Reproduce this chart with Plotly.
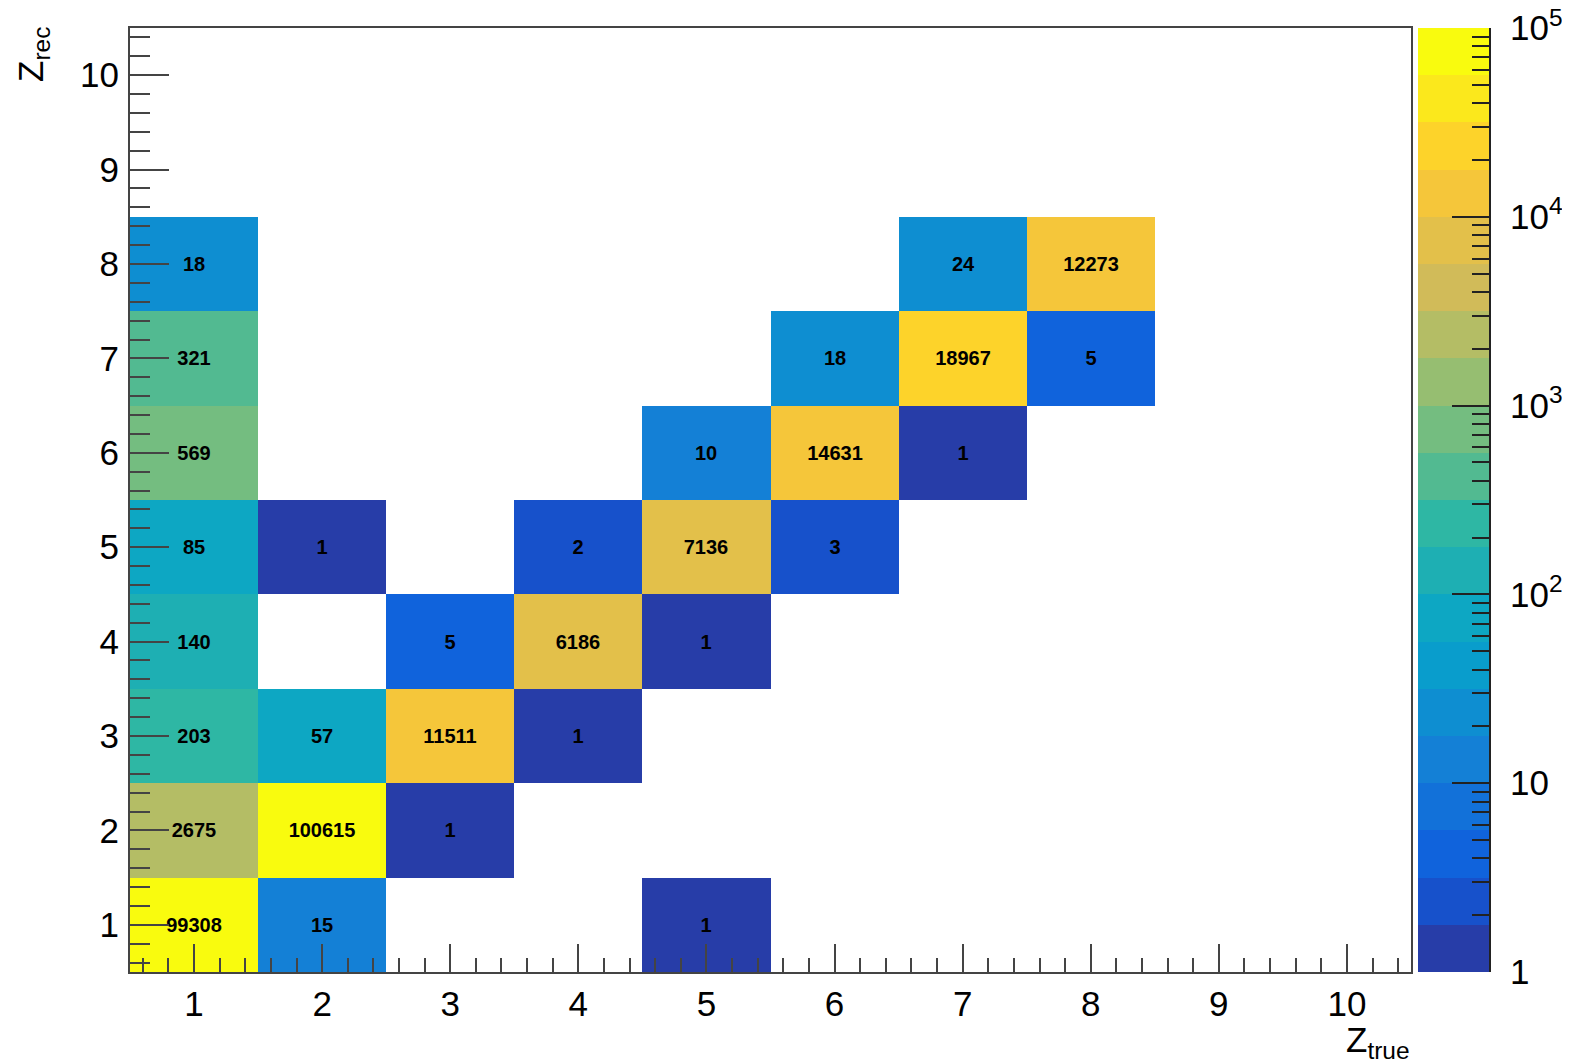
import math
import plotly.graph_objects as go

# ---------------- data ----------------
z_true = [1, 2, 5,
          1, 2, 3,
          1, 2, 3, 4,
          1, 3, 4, 5,
          1, 2, 4, 5, 6,
          1, 5, 6, 7,
          1, 6, 7, 8,
          1, 7, 8]
z_rec = [1, 1, 1,
         2, 2, 2,
         3, 3, 3, 3,
         4, 4, 4, 4,
         5, 5, 5, 5, 5,
         6, 6, 6, 6,
         7, 7, 7, 7,
         8, 8, 8]
counts = [99308, 15, 1,
          2675, 100615, 1,
          203, 57, 11511, 1,
          140, 5, 6186, 1,
          85, 1, 2, 7136, 3,
          569, 10, 14631, 1,
          321, 18, 18967, 5,
          18, 24, 12273]
axis_ticks = list(range(1, 11))
cbar_decades = [0, 1, 2, 3, 4, 5]
cbar_labels = ["1", "10", "10<sup>2</sup>", "10<sup>3</sup>", "10<sup>4</sup>", "10<sup>5</sup>"]

N_LEVELS = 20
ZMIN, ZMAX = 0.0, 5.0

# ---------------- palette (ROOT kBird, 20 contours) ----------------
stops = [0.0, 0.125, 0.25, 0.375, 0.5, 0.625, 0.75, 0.875, 1.0]
red = [0.2082, 0.0592, 0.0780, 0.0232, 0.1802, 0.5301, 0.8186, 0.9956, 0.9764]
green = [0.1664, 0.3599, 0.5041, 0.6419, 0.7178, 0.7492, 0.7328, 0.7862, 0.9832]
blue = [0.5293, 0.8684, 0.8385, 0.7914, 0.6425, 0.4662, 0.3499, 0.1968, 0.0539]


def bird(f):
    f = min(max(f, 0.0), 1.0)
    for i in range(len(stops) - 1):
        if stops[i] <= f <= stops[i + 1]:
            t = (f - stops[i]) / (stops[i + 1] - stops[i])
            r = red[i] + t * (red[i + 1] - red[i])
            g = green[i] + t * (green[i + 1] - green[i])
            b = blue[i] + t * (blue[i + 1] - blue[i])
            return "rgb(%d,%d,%d)" % (round(r * 255), round(g * 255), round(b * 255))
    return "rgb(249,251,14)"


level_colors = []
for k in range(N_LEVELS):
    idx = int((k + 0.99) * 255 / N_LEVELS)
    level_colors.append(bird(idx / 254.0))

colorscale = []
for k, c in enumerate(level_colors):
    colorscale.append([k / N_LEVELS, c])
    colorscale.append([(k + 1) / N_LEVELS, c])

# ---------------- grid ----------------
zgrid = [[None] * 10 for _ in range(10)]
tgrid = [[""] * 10 for _ in range(10)]
for xt, yr, c in zip(z_true, z_rec, counts):
    zgrid[yr - 1][xt - 1] = min(math.log10(c) + 1e-6, ZMAX - 1e-6)
    tgrid[yr - 1][xt - 1] = str(c)

# ---------------- geometry (page pixels; body has an 8px margin) ----------------
OFF = 8
W, H = 1570 - OFF, 1061 - OFF
PLOT_L, PLOT_R, PLOT_T, PLOT_B = 130, 1489, 28, 972
L, R, T, B = PLOT_L - OFF, W - (PLOT_R - OFF), PLOT_T - OFF, H - (PLOT_B - OFF)
PW = W - L - R
PH = H - T - B


def px(xpage):
    return (xpage - PLOT_L) / PW


def py(ypage):
    return (PLOT_B - ypage) / PH


FONT = "Liberation Sans, Arial, Helvetica, sans-serif"

fig = go.Figure()
fig.add_trace(go.Heatmap(
    x=axis_ticks, y=axis_ticks, z=zgrid, text=tgrid,
    texttemplate="%{text}",
    textfont=dict(family=FONT, size=20, color="black", weight="bold"),
    colorscale=colorscale, zmin=ZMIN, zmax=ZMAX, showscale=False,
    hoverongaps=False, xgap=0, ygap=0,
    xaxis="x", yaxis="y",
))

band_centers = [(k + 0.5) * (ZMAX - ZMIN) / N_LEVELS for k in range(N_LEVELS)]
fig.add_trace(go.Heatmap(
    x=[0], y=band_centers, z=[[v] for v in band_centers],
    colorscale=colorscale, zmin=ZMIN, zmax=ZMAX, showscale=False,
    xaxis="x2", yaxis="y2", hoverinfo="skip",
))

minor_cb = []
for d in range(5):
    for m in range(2, 10):
        minor_cb.append(d + math.log10(m))

axis_line = "#444444"
fig.update_layout(
    width=W, height=H,
    margin=dict(l=L, r=R, t=T, b=B, autoexpand=False),
    paper_bgcolor="white", plot_bgcolor="white",
    font=dict(family=FONT, size=35, color="black"),
    xaxis=dict(
        domain=[0, px(1411)], range=[0.5, 10.5], tickmode="array", tickvals=axis_ticks,
        ticks="inside", ticklen=28, tickwidth=2, tickcolor=axis_line,
        minor=dict(dtick=0.2, ticks="inside", ticklen=14, tickwidth=2, tickcolor=axis_line),
        showline=True, linecolor=axis_line, linewidth=2, mirror=True,
        showgrid=False, zeroline=False, ticklabelstandoff=0, automargin=False,
        ticklabeloverflow="allow",
        tickfont=dict(size=35, family=FONT),
    ),
    yaxis=dict(
        domain=[0, 1], range=[0.5, 10.5], tickmode="array", tickvals=axis_ticks,
        ticks="inside", ticklen=39, tickwidth=2, tickcolor=axis_line,
        minor=dict(dtick=0.2, ticks="inside", ticklen=20, tickwidth=2, tickcolor=axis_line),
        showline=True, linecolor=axis_line, linewidth=2, mirror=True,
        showgrid=False, zeroline=False, ticklabelstandoff=2, automargin=False,
        ticklabeloverflow="allow",
        tickfont=dict(size=35, family=FONT),
    ),
    xaxis2=dict(
        domain=[px(1418), 1.0], range=[-0.5, 0.5], anchor="y2",
        showticklabels=False, ticks="", showgrid=False, zeroline=False, showline=False,
        automargin=False,
    ),
    yaxis2=dict(
        domain=[0, 1], range=[ZMIN, ZMAX], anchor="x2", side="right",
        tickmode="array", tickvals=cbar_decades, ticktext=cbar_labels,
        ticks="inside", ticklen=37, tickwidth=2, tickcolor="#222",
        minor=dict(tickmode="array", tickvals=minor_cb, ticks="inside", ticklen=17,
                   tickwidth=2, tickcolor="#222"),
        showline=True, linecolor="#222", linewidth=2, mirror=False,
        showgrid=False, zeroline=False, ticklabelstandoff=12, automargin=False,
        ticklabeloverflow="allow",
        tickfont=dict(size=35, family=FONT),
    ),
    annotations=[
        dict(text="Z<sub>rec</sub>", xref="paper", yref="paper", x=px(33), y=py(55),
             textangle=-90, showarrow=False, font=dict(size=35, family=FONT),
             xanchor="center", yanchor="middle"),
        dict(text="Z<sub>true</sub>", xref="paper", yref="paper", x=px(1412), y=py(1042),
             showarrow=False, font=dict(size=35, family=FONT),
             xanchor="right", yanchor="middle"),
    ],
)

fig.write_html("out.html")
